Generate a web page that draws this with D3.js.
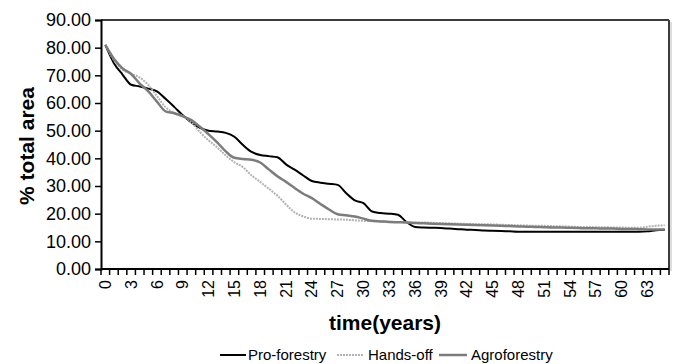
<!DOCTYPE html>
<html lang="en">
<head>
    <meta charset="UTF-8">
    <title>% total area over time</title>
    <script src="https://d3js.org/d3.v7.min.js"></script>
    <style>
        body { margin: 0; background: #fff; }
        svg { font-family: "Liberation Sans", Arial, sans-serif; }
        .ylab { font-size: 18px; fill: #000; }
        .xlab { font-size: 16px; fill: #000; }
        .title { font-size: 21px; font-weight: bold; fill: #000; }
        .leg { font-size: 15px; fill: #000; }
    </style>
</head>
<body>
    <svg id="chart" width="675" height="364"></svg>

    <script>
        // Categories (years)
        const years = [0,1,2,3,4,5,6,7,8,9,10,11,12,13,14,15,16,17,18,19,20,21,22,23,24,25,26,27,28,29,30,31,32,
            33,34,35,36,37,38,39,40,41,42,43,44,45,46,47,48,49,50,51,52,53,54,55,56,57,58,59,60,61,62,63,64,65];
        const xTickLabels = [0,3,6,9,12,15,18,21,24,27,30,33,36,39,42,45,48,51,54,57,60,63];
        const yTicks = [0,10,20,30,40,50,60,70,80,90];

        // Series values (% total area)
        const proForestry = [81,74.4,70.3,66.6,66.0,65.2,64.2,61.5,58.6,55.6,53.0,51.0,50.0,49.7,49.2,47.8,44.8,42.3,41.2,40.8,
            40.4,37.8,35.9,33.8,31.8,31.2,30.8,30.4,27.4,24.8,23.8,20.8,20.2,20.0,19.6,17.0,15.2,15.0,14.9,14.8,
            14.6,14.4,14.2,14.1,13.9,13.8,13.7,13.6,13.5,13.5,13.5,13.5,13.5,13.5,13.5,13.5,13.5,13.5,13.5,13.5,
            13.5,13.5,13.5,13.6,14.0,14.2];
        const handsOff = [81,75.5,72.0,70.6,69.2,66.5,62.5,58.5,56.5,55.3,53.0,49.5,46.5,44.0,41.0,38.6,36.8,33.8,31.5,29.0,
            26.5,23.3,20.5,19.0,18.2,18.1,18.0,17.9,17.8,17.6,17.4,17.3,17.2,17.1,17.0,16.9,16.8,16.8,16.7,16.6,
            16.5,16.4,16.3,16.2,16.2,16.1,16.0,15.9,15.8,15.7,15.6,15.6,15.5,15.4,15.3,15.2,15.2,15.1,15.1,15.0,
            15.0,14.9,14.9,15.3,15.6,15.8];
        const agroforestry = [81,76.0,72.5,70.5,67.0,64.2,60.5,57.0,56.3,55.2,53.8,51.4,48.7,45.8,42.5,40.2,39.8,39.5,38.5,36.0,
            33.5,31.5,29.3,27.2,25.6,23.5,21.5,19.8,19.4,19.0,18.2,17.4,17.2,17.0,16.9,16.8,16.6,16.5,16.4,16.3,
            16.2,16.1,16.0,15.9,15.8,15.7,15.6,15.5,15.4,15.3,15.2,15.1,15.0,15.0,14.9,14.8,14.7,14.7,14.6,14.6,
            14.5,14.5,14.4,14.3,14.3,14.3];

        const series = [
            { name: "Pro-forestry", values: proForestry, color: "#000", width: 2, dash: null },
            { name: "Hands-off", values: handsOff, color: "#b2b2b2", width: 2, dash: "2,1" },
            { name: "Agroforestry", values: agroforestry, color: "#7c7c7c", width: 2.5, dash: null }
        ];

        const plot = { left: 101, right: 669, top: 20, bottom: 269 };
        const svg = d3.select("#chart");

        const x = d3.scaleBand()
            .domain(years)
            .range([plot.left, plot.right])
            .padding(0);
        const y = d3.scaleLinear()
            .domain([0, 90])
            .range([plot.bottom, plot.top]);

        // plot frame (top and right)
        svg.append("line")
            .attr("x1", plot.left).attr("x2", plot.right)
            .attr("y1", plot.top).attr("y2", plot.top)
            .attr("stroke", "#3c3c3c").attr("stroke-width", 2);
        svg.append("line")
            .attr("x1", plot.right).attr("x2", plot.right)
            .attr("y1", plot.top).attr("y2", plot.bottom)
            .attr("stroke", "#3c3c3c").attr("stroke-width", 2);
        svg.append("line")
            .attr("x1", plot.right + 2).attr("x2", plot.right + 2)
            .attr("y1", plot.top + 2).attr("y2", plot.bottom + 2)
            .attr("stroke", "#bbb").attr("stroke-width", 1);

        // lines
        const line = d3.line()
            .x((d, i) => x(years[i]) + x.bandwidth() / 2)
            .y(d => y(d))
            .curve(d3.curveMonotoneX);

        svg.selectAll(".series")
            .data(series)
            .enter()
            .append("path")
            .attr("class", "series")
            .attr("d", d => line(d.values))
            .attr("fill", "none")
            .attr("stroke", d => d.color)
            .attr("stroke-width", d => d.width)
            .attr("stroke-dasharray", d => d.dash);

        // y axis
        const yAxis = d3.axisLeft(y)
            .tickValues(yTicks)
            .tickSize(6)
            .tickPadding(4)
            .tickFormat(d3.format(".2f"));
        const gy = svg.append("g")
            .attr("transform", `translate(${plot.left},0)`)
            .call(yAxis);
        gy.select(".domain").attr("stroke", "#000").attr("stroke-width", 2);
        gy.selectAll(".tick line").attr("stroke", "#000").attr("stroke-width", 1.5);
        gy.selectAll(".tick text").attr("class", "ylab").attr("font-size", null).attr("font-family", null);

        // x axis: ticks on category boundaries, labels every 3 years
        const gx = svg.append("g").attr("transform", `translate(0,${plot.bottom})`);
        gx.append("line")
            .attr("x1", plot.left).attr("x2", plot.right)
            .attr("stroke", "#000").attr("stroke-width", 2);
        gx.selectAll(".xtick")
            .data(years.concat([years.length]))
            .enter()
            .append("line")
            .attr("x1", (d, i) => plot.left + i * x.step())
            .attr("x2", (d, i) => plot.left + i * x.step())
            .attr("y1", 0).attr("y2", 6)
            .attr("stroke", "#000").attr("stroke-width", 1.5);
        gx.selectAll(".xlab")
            .data(xTickLabels)
            .enter()
            .append("text")
            .attr("class", "xlab")
            .attr("transform", d => `translate(${x(d) + x.bandwidth() / 2},11) rotate(-90)`)
            .attr("text-anchor", "end")
            .attr("dy", "0.35em")
            .text(d => d);

        // axis titles
        svg.append("text")
            .attr("class", "title")
            .attr("transform", "translate(34,146) rotate(-90)")
            .attr("text-anchor", "middle")
            .text("% total area");
        svg.append("text")
            .attr("class", "title")
            .attr("x", (plot.left + plot.right) / 2)
            .attr("y", 330)
            .attr("text-anchor", "middle")
            .text("time(years)");

        // legend
        const legendPos = [
            { x1: 220, x2: 246, tx: 248 },
            { x1: 337, x2: 364, tx: 368 },
            { x1: 439, x2: 467, tx: 471 }
        ];
        const legendY = 355;
        const lg = svg.selectAll(".legend")
            .data(series)
            .enter()
            .append("g")
            .attr("class", "legend");
        lg.append("line")
            .attr("x1", (d, i) => legendPos[i].x1)
            .attr("x2", (d, i) => legendPos[i].x2)
            .attr("y1", legendY).attr("y2", legendY)
            .attr("stroke", d => d.color)
            .attr("stroke-width", d => d.width)
            .attr("stroke-dasharray", d => d.dash);
        lg.append("text")
            .attr("class", "leg")
            .attr("x", (d, i) => legendPos[i].tx)
            .attr("y", legendY)
            .attr("dy", "0.35em")
            .text(d => d.name);
    </script>
</body>
</html>
